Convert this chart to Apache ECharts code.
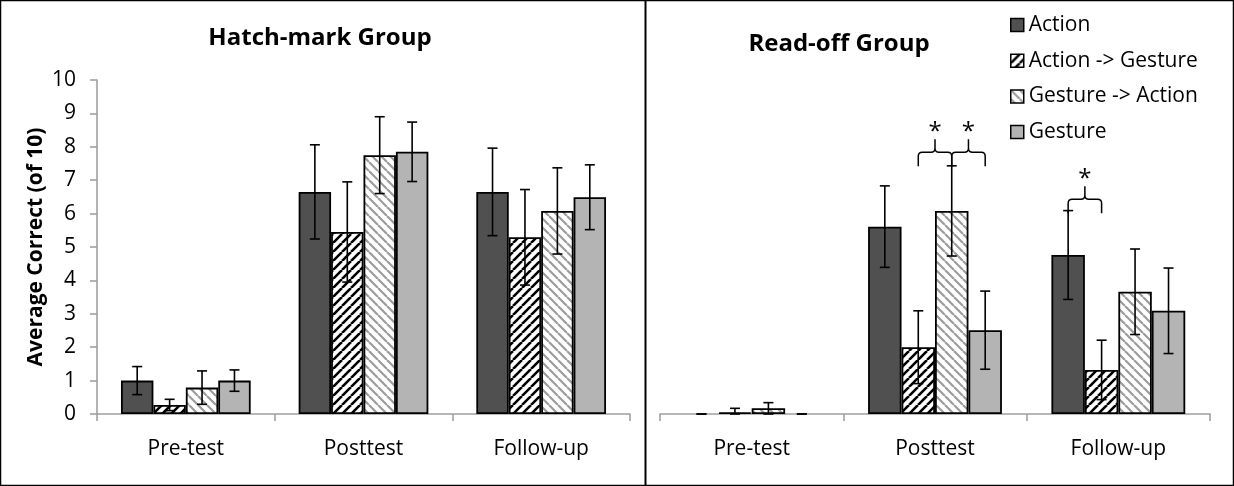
<!DOCTYPE html>
<html>
<head>
<meta charset="utf-8">
<script src="https://cdn.jsdelivr.net/npm/echarts@6/dist/echarts.min.js"></script>
<style>
  html, body { margin: 0; padding: 0; background: #fff; }
  #chart { width: 1234px; height: 486px; }
</style>
</head>
<body>
<div id="chart"></div>
<script>
// ---- data ----
const categories = ['Pre-test', 'Posttest', 'Follow-up'];
const conditionNames = ['Action', 'Action -> Gesture', 'Gesture -> Action', 'Gesture'];
const yMin = 0, yMax = 10, yStep = 1;

// Hatch-mark group: means and error half-widths
const hatchAction = [1.0, 6.65, 6.65];
const hatchActionGesture = [0.27, 5.45, 5.29];
const hatchGestureAction = [0.79, 7.75, 6.08];
const hatchGesture = [1.0, 7.85, 6.49];
const hatchActionErr = [0.42, 1.41, 1.31];
const hatchActionGestureErr = [0.17, 1.50, 1.43];
const hatchGestureActionErr = [0.50, 1.15, 1.29];
const hatchGestureErr = [0.32, 0.89, 0.97];

// Read-off group: means and error half-widths
const readAction = [0, 5.61, 4.76];
const readActionGesture = [0.05, 2.00, 1.32];
const readGestureAction = [0.17, 6.08, 3.66];
const readGesture = [0, 2.51, 3.09];
const readActionErr = [0, 1.22, 1.33];
const readActionGestureErr = [0.12, 1.09, 0.89];
const readGestureActionErr = [0.17, 1.35, 1.28];
const readGestureErr = [0, 1.17, 1.28];

// Significance braces in the Read-off panel
const braceCategory = [1, 1, 2];
const braceFromBar = [1, 2, 0];
const braceToBar = [2, 3, 1];
const braceLevel = [7.84, 7.84, 6.43];
const braceMark = ['*', '*', '*'];

// ---- styling helpers ----
const FONT = '"Open Sans", "Noto Sans", sans-serif';
const GAP = 0.27;          // barCategoryGap as fraction
const AXIS_GREY = '#a0a0a0';

function stripes(color, dir, width) {
  const s = 9;
  const c = document.createElement('canvas');
  c.width = s; c.height = s;
  const g = c.getContext('2d');
  g.fillStyle = '#ffffff';
  g.fillRect(0, 0, s, s);
  g.strokeStyle = color;
  g.lineWidth = width;
  g.beginPath();
  for (let k = -1; k <= 1; k++) {
    if (dir === '/') { g.moveTo(k * s, s); g.lineTo(k * s + s, 0); }
    else { g.moveTo(k * s, 0); g.lineTo(k * s + s, s); }
  }
  g.stroke();
  return { image: c, repeat: 'repeat' };
}

const fills = [
  '#505050',
  stripes('#000000', '/', 2.6),
  stripes('#9c9c9c', '\\', 2.2),
  '#b4b4b4'
];

const barData = vals => vals.map(v => v === 0 ? { value: 0, itemStyle: { borderWidth: 0 } } : v);

function barSeries(name, vals, idx, panel) {
  return {
    type: 'bar', name: name,
    xAxisIndex: panel, yAxisIndex: panel,
    data: barData(vals),
    barCategoryGap: (GAP * 100) + '%', barGap: '0%',
    itemStyle: { color: fills[idx], borderColor: '#000', borderWidth: 1.8 },
    emphasis: { disabled: true },
    z: 2
  };
}

function errorSeries(vals, errs, idx, panel) {
  return {
    type: 'custom',
    xAxisIndex: panel, yAxisIndex: panel,
    data: vals.map((v, i) => [i, v, errs[i]]),
    z: 5, silent: true,
    renderItem: function (params, api) {
      const cat = api.value(0), v = api.value(1), e = api.value(2);
      const band = api.size([1, 0])[0];
      const bw = band * (1 - GAP) / 4;
      const x = api.coord([cat, v])[0] + (idx - 1.5) * bw;
      const hi = api.coord([cat, v + e])[1];
      const lo = api.coord([cat, Math.max(0, v - e)])[1];
      const cap = 5;
      const st = { stroke: '#000', lineWidth: 1.6 };
      return {
        type: 'group', children: [
          { type: 'line', shape: { x1: x, y1: hi, x2: x, y2: lo }, style: st },
          { type: 'line', shape: { x1: x - cap, y1: hi, x2: x + cap, y2: hi }, style: st },
          { type: 'line', shape: { x1: x - cap, y1: lo, x2: x + cap, y2: lo }, style: st }
        ]
      };
    }
  };
}

// Curly brace spanning two bar centres, with a star above its tip
const braceSeries = {
  type: 'custom',
  xAxisIndex: 1, yAxisIndex: 1,
  data: braceCategory.map((c, i) => [c, braceFromBar[i], braceToBar[i], braceLevel[i]]),
  z: 6, silent: true,
  renderItem: function (params, api) {
    const cat = api.value(0), a = api.value(1), b = api.value(2), lvl = api.value(3);
    const band = api.size([1, 0])[0];
    const bw = band * (1 - GAP) / 4;
    const p = api.coord([cat, lvl]);
    const x1 = p[0] + (a - 1.5) * bw, x2 = p[0] + (b - 1.5) * bw;
    const y = p[1], xm = (x1 + x2) / 2, r = 4;
    const d = 'M' + x1 + ' ' + (y + 14) + ' L' + x1 + ' ' + (y + r) +
      ' Q' + x1 + ' ' + y + ' ' + (x1 + r) + ' ' + y +
      ' L' + (xm - r) + ' ' + y + ' Q' + xm + ' ' + y + ' ' + xm + ' ' + (y - r) +
      ' L' + xm + ' ' + (y - 13) +
      ' M' + xm + ' ' + (y - r) + ' Q' + xm + ' ' + y + ' ' + (xm + r) + ' ' + y +
      ' L' + (x2 - r) + ' ' + y + ' Q' + x2 + ' ' + y + ' ' + x2 + ' ' + (y + r) +
      ' L' + x2 + ' ' + (y + 14);
    return {
      type: 'group', children: [
        { type: 'path', shape: { pathData: d }, style: { fill: null, stroke: '#000', lineWidth: 1.5 } },
        { type: 'text', x: xm, y: y - 20, style: { text: braceMark[params.dataIndex], fill: '#000',
          font: '24px ' + FONT, textAlign: 'center', textVerticalAlign: 'middle' } }
      ]
    };
  }
};

const hatchVals = [hatchAction, hatchActionGesture, hatchGestureAction, hatchGesture];
const hatchErrs = [hatchActionErr, hatchActionGestureErr, hatchGestureActionErr, hatchGestureErr];
const readVals = [readAction, readActionGesture, readGestureAction, readGesture];
const readErrs = [readActionErr, readActionGestureErr, readGestureActionErr, readGestureErr];

const series = [];
hatchVals.forEach((v, i) => series.push(barSeries(conditionNames[i], v, i, 0)));
readVals.forEach((v, i) => series.push(barSeries(conditionNames[i], v, i, 1)));
hatchVals.forEach((v, i) => series.push(errorSeries(v, hatchErrs[i], i, 0)));
readVals.forEach((v, i) => series.push(errorSeries(v, readErrs[i], i, 1)));
series.push(braceSeries);

function categoryAxis(gridIndex) {
  return {
    type: 'category', gridIndex: gridIndex, data: categories,
    axisLine: { show: true, lineStyle: { color: AXIS_GREY, width: 1.6 } },
    axisTick: { show: true, length: 7, lineStyle: { color: AXIS_GREY, width: 1.6 } },
    axisLabel: { color: '#000', fontSize: 21, fontFamily: FONT, margin: 25, interval: 0 },
    splitLine: { show: false }
  };
}

const option = {
  animation: false,
  backgroundColor: '#fff',
  textStyle: { fontFamily: FONT },
  grid: [
    { left: 97, right: 604, top: 80, bottom: 72 },
    { left: 660, right: 24, top: 80, bottom: 72 }
  ],
  xAxis: [categoryAxis(0), categoryAxis(1)],
  yAxis: [
    {
      type: 'value', gridIndex: 0, min: yMin, max: yMax, interval: yStep,
      name: 'Average Correct (of 10)', nameLocation: 'middle', nameGap: 50, nameRotate: 90,
      nameTextStyle: { color: '#000', fontSize: 21, fontWeight: 'bold', fontFamily: FONT },
      axisLine: { show: true, lineStyle: { color: AXIS_GREY, width: 1.6 } },
      axisTick: { show: true, length: 7, lineStyle: { color: AXIS_GREY, width: 1.6 } },
      axisLabel: { color: '#000', fontSize: 21, fontFamily: FONT, margin: 21 },
      splitLine: { show: false }
    },
    {
      type: 'value', gridIndex: 1, min: yMin, max: yMax, interval: yStep, show: false,
      splitLine: { show: false }
    }
  ],
  legend: {
    orient: 'vertical', left: 1005, top: 8,
    data: conditionNames, icon: 'rect', itemWidth: 13, itemHeight: 13, itemGap: 11.7,
    itemStyle: { borderColor: '#000', borderWidth: 1.5 },
    textStyle: { color: '#000', fontSize: 21, fontFamily: FONT, lineHeight: 24 },
    selectedMode: false
  },
  graphic: [
    { type: 'rect', shape: { x: 0.5, y: 0.5, width: 1233, height: 485 },
      style: { fill: null, stroke: '#000', lineWidth: 1.5 }, silent: true },
    { type: 'line', shape: { x1: 645.5, y1: 0, x2: 645.5, y2: 486 },
      style: { stroke: '#000', lineWidth: 2 }, silent: true },
    { type: 'text', x: 320, y: 38, style: { text: 'Hatch-mark Group', fill: '#000',
      font: 'bold 24px ' + FONT, textAlign: 'center', textVerticalAlign: 'middle' } },
    { type: 'text', x: 839, y: 44, style: { text: 'Read-off Group', fill: '#000',
      font: 'bold 24px ' + FONT, textAlign: 'center', textVerticalAlign: 'middle' } }
  ],
  series: series
};

const chart = echarts.init(document.getElementById('chart'), null, { renderer: 'canvas' });
chart.setOption(option);
</script>
</body>
</html>
